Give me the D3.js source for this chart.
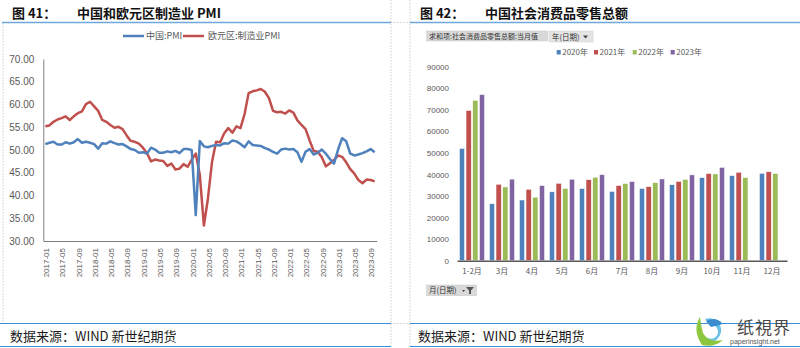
<!DOCTYPE html>
<html><head><meta charset="utf-8">
<script src="https://cdn.jsdelivr.net/npm/d3@7"></script>
<style>
body{margin:0;background:#fff}
svg{display:block}
text{font-family:"Liberation Sans","Noto Sans CJK SC",sans-serif}
.cjk{font-family:"Noto Sans CJK SC","Liberation Sans",sans-serif}
</style>
</head><body>
<svg id="c" width="800" height="348"></svg>
<script>
// ---------- DATA ----------
const months = d3.timeMonth.range(new Date(2017,0,1), new Date(2023,10,1)).map(d3.timeFormat("%Y-%m"));
const chinaPMI = [
  51.3,51.6,51.8,51.2,51.2,51.7,51.4,51.7,52.4,51.6,51.8,51.6,
  51.3,50.3,51.5,51.4,51.9,51.5,51.2,51.3,50.8,50.2,50.0,49.4,
  49.5,49.2,50.5,50.1,49.4,49.4,49.7,49.5,49.8,49.3,50.2,50.2,
  50.0,35.7,52.0,50.8,50.6,50.9,51.1,51.0,51.5,51.4,52.1,51.9,
  51.3,50.6,51.9,51.1,51.0,50.9,50.4,50.1,49.6,49.2,50.1,50.3,
  50.1,50.2,49.5,47.4,49.6,50.2,49.0,49.4,50.1,49.2,48.0,47.0,
  50.1,52.6,51.9,49.2,48.8,49.0,49.3,49.7,50.2,49.5
];
const euroPMI = [
  55.2,55.4,56.2,56.7,57.0,57.4,56.6,57.4,58.1,58.5,60.1,60.6,
  59.6,58.6,56.6,56.2,55.5,54.9,55.1,54.6,53.2,52.0,51.8,51.4,
  50.5,49.3,47.5,47.9,47.7,47.6,46.5,47.0,45.7,45.9,46.9,46.3,
  47.9,49.2,44.5,33.4,39.4,47.4,51.8,51.7,53.7,54.8,53.8,55.2,
  54.8,57.9,62.5,62.9,63.1,63.4,62.8,61.4,58.6,58.3,58.4,58.0,
  58.7,58.2,56.5,55.5,54.6,52.1,49.8,49.6,48.4,46.4,47.1,47.8,
  48.8,48.5,47.3,45.8,44.8,43.4,42.7,43.5,43.4,43.1
];
const pmiSeriesNames = ["中国:PMI","欧元区:制造业PMI"];
const pmiTicks = [30,35,40,45,50,55,60,65,70];

const retailCats = ["1-2月","3月","4月","5月","6月","7月","8月","9月","10月","11月","12月"];
const retailYears = ["2020年","2021年","2022年","2023年"];
const retail2020 = [52130,26450,28178,31973,33526,32203,33571,35295,38576,39514,40566];
const retail2021 = [69737,35484,33153,35945,37586,34925,34395,36833,40454,41043,41269];
const retail2022 = [74426,34233,29483,33547,38742,35870,36258,37745,40271,38615,40542];
const retail2023 = [77067,37855,34910,37803,39951,36761,37933,39826,43333,null,null];
const retailTicks = [0,10000,20000,30000,40000,50000,60000,70000,80000,90000];

// ---------- STYLE ----------
const BLUE="#4F81BD", RED="#C0504D", GREEN="#9BBB59", PURPLE="#8064A2";
const AXIS_TXT="#595959";
const svg = d3.select("#c");

// panel frame lines
const dotted = (x1,y1,x2,y2)=>svg.append("line").attr("x1",x1).attr("y1",y1).attr("x2",x2).attr("y2",y2)
  .attr("stroke","#cfcfcf").attr("stroke-width",1).attr("stroke-dasharray","1.5,1.5");
dotted(391,0,391,348); dotted(410,0,410,348);
dotted(3,23,3,323); dotted(391,22.5,410,22.5); dotted(391,323.5,410,323.5);

// titles
function title(x, num, txt, tx){
  svg.append("text").attr("class","cjk").attr("x",x).attr("y",17.5).attr("font-size",13).attr("font-weight","bold").attr("fill","#111").text("图  "+num+"：");
  svg.append("text").attr("class","cjk").attr("x",tx).attr("y",17.5).attr("font-size",13).attr("font-weight","bold").attr("fill","#111").text(txt);
}
title(12,"41","中国和欧元区制造业 PMI",77);
title(420,"42","中国社会消费品零售总额",485);
svg.append("line").attr("x1",2).attr("x2",391).attr("y1",22.5).attr("y2",22.5).attr("stroke","#6FA8DC").attr("stroke-width",1.5);
svg.append("line").attr("x1",410).attr("x2",800).attr("y1",22.5).attr("y2",22.5).attr("stroke","#6FA8DC").attr("stroke-width",1.5);

// footers
[[0,391,10],[410,800,418]].forEach(([a,b,t])=>{
  svg.append("line").attr("x1",a).attr("x2",b).attr("y1",323.5).attr("y2",323.5).attr("stroke","#3A8EDB").attr("stroke-width",1.2);
  svg.append("line").attr("x1",a).attr("x2",b).attr("y1",346.5).attr("y2",346.5).attr("stroke","#3A8EDB").attr("stroke-width",1.2);
  svg.append("text").attr("class","cjk").attr("x",t).attr("y",340.5).attr("font-size",13).attr("fill","#1a1a1a").text("数据来源：WIND 新世纪期货");
});

// ---------- LEFT: PMI lines ----------
const xL = d3.scaleBand().domain(months).range([43.3,376.7]);
const yL = d3.scaleLinear().domain([30,70]).range([241,59]);
const gL = svg.append("g");

const yAxL = gL.append("g").attr("transform","translate(43.3,0)")
  .call(d3.axisLeft(yL).tickValues(pmiTicks).tickFormat(d3.format(".2f")).tickSize(0).tickPadding(9));
yAxL.select(".domain").attr("stroke","#7f7f7f");
yAxL.selectAll("text").attr("font-size",10).attr("fill",AXIS_TXT);

const xAxL = gL.append("g").attr("transform","translate(0,241)")
  .call(d3.axisBottom(xL).tickValues(months.filter((d,i)=>i%4===0)).tickSize(0));
xAxL.select(".domain").attr("stroke","#7f7f7f");
xAxL.selectAll("text").attr("font-size",8).attr("fill",AXIS_TXT)
  .attr("transform","rotate(-90)").attr("text-anchor","end").attr("x",-7).attr("y",1).attr("dy","0.35em");

const line = d3.line().x((d,i)=>xL(months[i])+xL.bandwidth()/2).y(d=>yL(d));
[[euroPMI,RED],[chinaPMI,BLUE]].forEach(([arr,col])=>{
  gL.append("path").datum(arr).attr("d",line).attr("fill","none").attr("stroke",col)
    .attr("stroke-width",2.5).attr("stroke-linejoin","round");
});
// legend left
[[123,BLUE,pmiSeriesNames[0],146],[183,RED,pmiSeriesNames[1],208]].forEach(([x,c,t,tx])=>{
  svg.append("line").attr("x1",x).attr("x2",x+21).attr("y1",36).attr("y2",36).attr("stroke",c).attr("stroke-width",2.5);
  svg.append("text").attr("class","cjk").attr("x",tx).attr("y",39).attr("font-size",9).attr("fill",AXIS_TXT).text(t);
});

// ---------- RIGHT: retail bars ----------
const x0 = d3.scaleBand().domain(retailCats).range([457,787]).paddingInner(0.155).paddingOuter(0.0775);
const x1 = d3.scaleBand().domain(d3.range(4)).range([0,x0.bandwidth()]).paddingInner(0.2);
const yR = d3.scaleLinear().domain([0,90000]).range([260.7,66.7]);
const gR = svg.append("g");

const yAxR = gR.append("g").attr("transform","translate(449,0)")
  .call(d3.axisLeft(yR).tickValues(retailTicks).tickFormat(d3.format("d")).tickSize(0).tickPadding(0));
yAxR.select(".domain").remove();
yAxR.selectAll("text").attr("font-size",8).attr("fill",AXIS_TXT);

const series = [retail2020,retail2021,retail2022,retail2023];
const cols = [BLUE,RED,GREEN,PURPLE];
series.forEach((arr,s)=>{
  gR.selectAll(null).data(retailCats.map((c,i)=>({c,v:arr[i]})).filter(d=>d.v!=null)).enter()
    .append("rect")
    .attr("x",d=>x0(d.c)+x1(s)).attr("width",x1.bandwidth())
    .attr("y",d=>yR(d.v)).attr("height",d=>yR(0)-yR(d.v))
    .attr("fill",cols[s]).attr("stroke","#fff").attr("stroke-width",0.6);
});
const xAxR = gR.append("g").attr("transform","translate(0,260.7)")
  .call(d3.axisBottom(x0).tickSize(0).tickPadding(8));
xAxR.select(".domain").attr("stroke","#595959").attr("stroke-width",1.5);
xAxR.selectAll("text").attr("class","cjk").attr("font-size",8).attr("fill",AXIS_TXT);

// legend right
[556.7,594,632.7,670.7].forEach((x,i)=>{
  svg.append("rect").attr("x",x).attr("y",50).attr("width",4).attr("height",4.5).attr("fill",cols[i]);
  svg.append("text").attr("class","cjk").attr("x",x+5.5).attr("y",55).attr("font-size",8).attr("fill",AXIS_TXT).text(retailYears[i]);
});

// pivot buttons
svg.append("rect").attr("x",426.7).attr("y",31).attr("width",121).attr("height",10).attr("fill","#d9d9d9").attr("stroke","#c8c8c8").attr("stroke-width",0.5);
svg.append("text").attr("class","cjk").attr("x",429).attr("y",38.7).attr("font-size",7).attr("fill","#333").text("求和项:社会消费品零售总额:当月值");
svg.append("rect").attr("x",549).attr("y",31).attr("width",44).attr("height",11).attr("fill","#e4e4e4").attr("stroke","#cfcfcf").attr("stroke-width",0.5);
svg.append("text").attr("class","cjk").attr("x",552).attr("y",39.5).attr("font-size",7.5).attr("fill","#333").text("年(日期)");
svg.append("path").attr("d","M583,35.5 L588,35.5 L585.5,38.5 Z").attr("fill","#444");

svg.append("rect").attr("x",426.7).attr("y",285).attr("width",50).attr("height",10.7).attr("fill","#d9d9d9").attr("stroke","#c8c8c8").attr("stroke-width",0.5);
svg.append("text").attr("class","cjk").attr("x",429).attr("y",293.2).attr("font-size",7.5).attr("fill","#333").text("月(日期)");
svg.append("path").attr("d","M462,290 L465,290 L463.5,292 Z").attr("fill","#444");
svg.append("path").attr("d","M466,287 L474,287 L471,290.5 L471,294 L469,294 L469,290.5 Z").attr("fill","#555");

// watermark logo
const lg = svg.append("g");
lg.append("path").attr("d","M705,319 A12,12 0 1 1 701,339 L708,338 A7,7 0 1 0 709,325 Z").attr("fill","#6CC1E6");
lg.append("path").attr("d","M700,317 Q692,330 702,345 Q714,348 723,340 Q708,343 703,333 Q701,326 700,317 Z").attr("fill","#8DC63F");
lg.append("path").attr("d","M706,321 Q716,316 723,324 Q716,326 711,327 Z").attr("fill","#3C8DD0");
svg.append("text").attr("class","cjk").attr("x",737).attr("y",334).attr("font-size",17).attr("fill","#4a4a4a").attr("letter-spacing",1).text("纸視界");
svg.append("text").attr("x",730).attr("y",344).attr("font-size",7).attr("fill","#555").text("paperinsight.net");
</script>
</body></html>
